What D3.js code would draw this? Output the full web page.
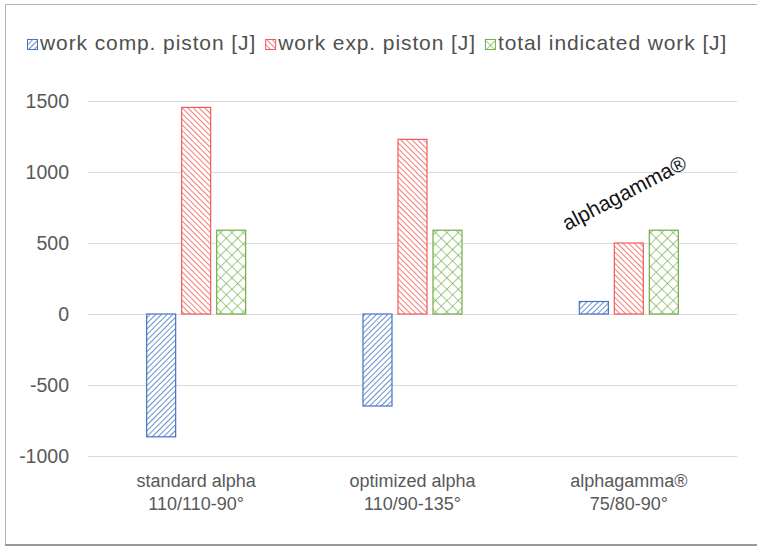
<!DOCTYPE html>
<html>
<head>
<meta charset="utf-8">
<script src="https://cdn.jsdelivr.net/npm/d3@7"></script>
<style>
  body { margin: 0; background: #fff; }
  svg { font-family: "Liberation Sans", Arial, sans-serif; }
</style>
</head>
<body>
<svg width="757" height="547"></svg>
<script>
// data
var categories = ["standard alpha|110/110-90°", "optimized alpha|110/90-135°", "alphagamma®|75/80-90°"];
var seriesNames = ["work comp. piston [J]", "work exp. piston [J]", "total indicated work [J]"];
var workComp = [-865, -648, 88];
var workExp = [1455, 1230, 500];
var totalWork = [590, 590, 590];
var yTicks = [-1000, -500, 0, 500, 1000, 1500];

var colors = ["#4472c4", "#f05a5a", "#70ad47"];
var series = [workComp, workExp, totalWork];

var svg = d3.select("svg");
var W = 757, H = 547;

// frame
svg.append("line").attr("x1", 5).attr("y1", 4.5).attr("x2", W).attr("y2", 4.5).attr("stroke", "#b4b4b4");
svg.append("line").attr("x1", 5.5).attr("y1", 4).attr("x2", 5.5).attr("y2", 545).attr("stroke", "#b4b4b4");
svg.append("line").attr("x1", 5).attr("y1", 545).attr("x2", W).attr("y2", 545).attr("stroke", "#9a9a9a").attr("stroke-width", 2);

// hatch patterns
var defs = svg.append("defs");
function hatch(id, color, angle, size) {
  var p = defs.append("pattern").attr("id", id).attr("patternUnits", "userSpaceOnUse")
      .attr("width", size).attr("height", size).attr("patternTransform", "rotate(" + angle + ")");
  p.append("rect").attr("width", size).attr("height", size).attr("fill", "#fff");
  p.append("line").attr("x1", 0).attr("y1", 0).attr("x2", 0).attr("y2", size)
      .attr("stroke", color).attr("stroke-width", 1.6);
}
hatch("p0", colors[0], 45, 4);
hatch("p1", colors[1], -45, 4);
// crosshatch
var pc = defs.append("pattern").attr("id", "p2").attr("patternUnits", "userSpaceOnUse")
    .attr("width", 8).attr("height", 8).attr("patternTransform", "rotate(45)");
pc.append("rect").attr("width", 8).attr("height", 8).attr("fill", "#fff");
pc.append("line").attr("x1", 0).attr("y1", 0).attr("x2", 0).attr("y2", 8).attr("stroke", colors[2]).attr("stroke-width", 1.3);
pc.append("line").attr("x1", 0).attr("y1", 0).attr("x2", 8).attr("y2", 0).attr("stroke", colors[2]).attr("stroke-width", 1.3);

var x = d3.scaleBand().domain(categories).range([88, 737]);
var y = d3.scaleLinear().domain([-1000, 1500]).range([456, 101]);

// gridlines
svg.append("g").selectAll("line").data(yTicks).enter().append("line")
    .attr("x1", 88).attr("x2", 737)
    .attr("y1", function(d) { return Math.round(y(d)) + 0.5; })
    .attr("y2", function(d) { return Math.round(y(d)) + 0.5; })
    .attr("stroke", "#d9d9d9").attr("stroke-width", 1.2);

// y axis labels
var yAxis = d3.axisLeft(y).tickValues(yTicks).tickSize(0).tickPadding(0)
    .tickFormat(function(d) { return String(d); });
var gy = svg.append("g").attr("transform", "translate(69,0)").call(yAxis);
gy.select(".domain").remove();
gy.selectAll("text").attr("fill", "#595959").style("font-size", "19.5px")
    .style("font-family", "'Liberation Sans', Arial, sans-serif");

// bars
var barW = 30, step = 35;
var groups = svg.append("g").selectAll("g").data(series).enter().append("g");
groups.each(function(vals, si) {
  d3.select(this).selectAll("rect").data(vals).enter().append("rect")
      .attr("x", function(d, i) { return x(categories[i]) + x.bandwidth() / 2 - barW / 2 + (si - 1) * step + 0.5; })
      .attr("y", function(d) { return y(Math.max(0, d)); })
      .attr("width", barW - 1)
      .attr("height", function(d) { return Math.abs(y(d) - y(0)); })
      .attr("fill", "url(#p" + si + ")")
      .attr("stroke", colors[si]).attr("stroke-width", 1.2);
});

// x labels
var xl = svg.append("g").selectAll("text").data(categories).enter().append("text")
    .attr("x", function(d) { return x(d) + x.bandwidth() / 2; })
    .attr("y", 487)
    .attr("text-anchor", "middle").attr("fill", "#595959").style("font-size", "18px");
xl.each(function(d) {
  var parts = d.split("|");
  d3.select(this).append("tspan").attr("x", x(d) + x.bandwidth() / 2).attr("dy", 0).text(parts[0]);
  d3.select(this).append("tspan").attr("x", x(d) + x.bandwidth() / 2).attr("dy", 23).text(parts[1]);
});

// legend (laid out by text width)
var lg = svg.append("g").attr("transform", "translate(27,39)");
var lx = 0;
seriesNames.forEach(function(name, i) {
  var item = lg.append("g").attr("transform", "translate(" + lx + ",0)");
  item.append("rect").attr("width", 10).attr("height", 10).attr("x", 0.5).attr("y", 0.5)
      .attr("fill", "url(#p" + i + ")").attr("stroke", colors[i]);
  var t = item.append("text").attr("x", 13).attr("y", 10.5).attr("fill", "#505050")
      .style("font-size", "21px").style("letter-spacing", "0.9px")
      .text(name);
  lx += 13 + t.node().getComputedTextLength() + 9;
});

// annotation
svg.append("text")
    .attr("transform", "translate(567,231) rotate(-27.6)")
    .attr("fill", "#111").style("font-size", "21px")
    .text("alphagamma®");
</script>
</body>
</html>
